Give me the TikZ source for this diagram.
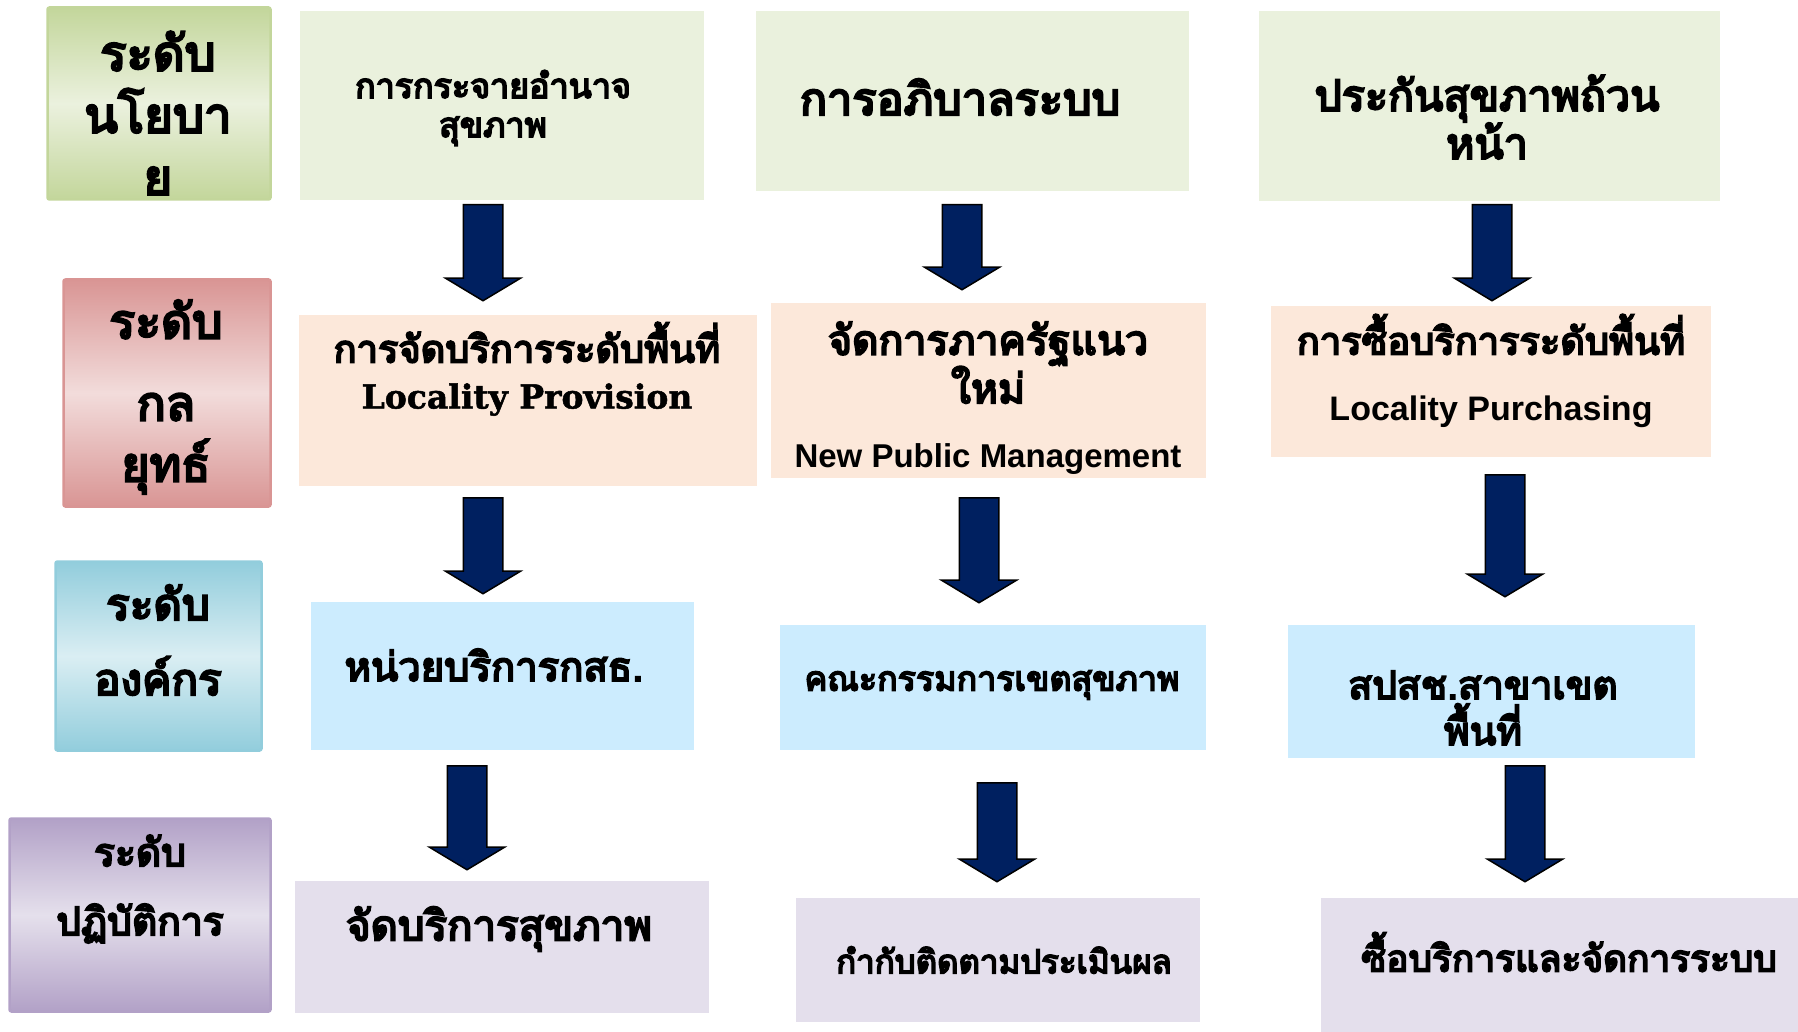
\documentclass[tikz,border=0pt]{standalone}
\usepackage{fontspec}
\newfontfamily\thaifont[Script=Thai,BoldFont={Loma},BoldFeatures={FakeBold=5}]{Loma}
\newfontfamily\arialfont{Liberation Sans}
\newfontfamily\slabfont[BoldFeatures={FakeBold=1.5}]{DejaVu Serif}
\usetikzlibrary{shapes.arrows}

\definecolor{navy}{RGB}{0,32,96}
\definecolor{cgreen}{RGB}{234,241,221}
\definecolor{cpeach}{RGB}{252,232,218}
\definecolor{cblue}{RGB}{204,236,254}
\definecolor{clav}{RGB}{228,223,236}
\definecolor{grlight}{RGB}{235,241,222}
\definecolor{grdark}{RGB}{195,214,155}
\definecolor{rslight}{RGB}{242,220,219}
\definecolor{rsdark}{RGB}{217,149,148}
\definecolor{bllight}{RGB}{218,238,243}
\definecolor{bldark}{RGB}{146,205,220}
\definecolor{pulight}{RGB}{229,224,236}
\definecolor{pudark}{RGB}{178,161,199}

\begin{document}
\begin{tikzpicture}[x=1pt,y=-1pt,
  cell/.style={rectangle,inner sep=0pt,draw=none},
  level/.style={rectangle,rounded corners=2pt,line width=2.5pt,shading angle=-45,inner sep=0pt},
  txt/.style 2 args={align=center,inner sep=0pt,font=\thaifont\bfseries\fontsize{#1}{#2}\selectfont},
  downarrow/.style={single arrow,draw=black,line width=1.5pt,fill=navy,rotate=-90,anchor=tail,
    inner xsep=0pt,inner ysep=19pt,single arrow head extend=18pt,single arrow tip angle=118}]
\useasboundingbox (0,0) rectangle (1798,1032);

% level labels
\node[level,draw=grdark,top color=grdark,bottom color=grdark,middle color=grlight,
  minimum width=223pt,minimum height=192pt] (lvpolicy) at (159,103.5) {};
\node[level,draw=rsdark,top color=rsdark,bottom color=rsdark,middle color=rslight,
  minimum width=207pt,minimum height=227pt] (lvstrategy) at (167,393) {};
\node[level,draw=bldark,top color=bldark,bottom color=bldark,middle color=bllight,
  minimum width=206pt,minimum height=189pt] (lvorg) at (158.5,656) {};
\node[level,draw=pudark,top color=pudark,bottom color=pudark,middle color=pulight,
  minimum width=261pt,minimum height=193pt] (lvoper) at (140,915) {};

\node[txt={49}{62}] (lvpolicyt) at (158,113) {ระดับ\\นโยบา\\ย};
\node[txt={48}{61}] (lvstrategyt) at (166,397) {ระดับ\\[21pt]กล\\ยุทธ์};
\node[txt={44}{75}] (lvorgt) at (158,640) {ระดับ\\องค์กร};
\node[txt={39}{69}] (lvopert) at (140,889) {ระดับ\\ปฏิบัติการ};

% column 1
\node[cell,fill=cgreen,minimum width=404pt,minimum height=189pt] (decentral) at (502,105.5) {};
\node[cell,fill=cpeach,minimum width=458pt,minimum height=171pt] (locprov) at (528,400.5) {};
\node[cell,fill=cblue,minimum width=383pt,minimum height=148pt] (unit) at (502.5,676) {};
\node[cell,fill=clav,minimum width=414pt,minimum height=132pt] (service) at (502,947) {};

\node[txt={34}{39}] (decentralt) at (493,108) {การกระจายอำนาจ\\สุขภาพ};
\node[txt={38}{46}] (locprovt) at (527,369) {การจัดบริการระดับพื้นที่\\{\slabfont\bfseries\fontsize{33}{46}\selectfont Locality Provision}};
\node[txt={40}{48}] (unitt) at (494,665) {หน่วยบริการกสธ.};
\node[txt={42}{48}] (servicet) at (499,929) {จัดบริการสุขภาพ};

% column 2
\node[cell,fill=cgreen,minimum width=433pt,minimum height=180pt] (govern) at (972.5,101) {};
\node[cell,fill=cpeach,minimum width=435pt,minimum height=175pt] (npm) at (988.5,390.5) {};
\node[cell,fill=cblue,minimum width=426pt,minimum height=125pt] (board) at (993,687.5) {};
\node[cell,fill=clav,minimum width=404pt,minimum height=124pt] (monitor) at (998,960) {};

\node[txt={45}{50}] (governt) at (960,97) {การอภิบาลระบบ};
\node[txt={41}{47}] (npmt) at (988,398) {จัดการภาครัฐแนว\\ใหม่\\[17pt]{\arialfont\fontsize{33}{47}\selectfont New Public Management}};
\node[txt={34}{40}] (boardt) at (992,685) {คณะกรรมการเขตสุขภาพ};
\node[txt={33}{40}] (monitort) at (1004,960) {กำกับติดตามประเมินผล};

% column 3
\node[cell,fill=cgreen,minimum width=461pt,minimum height=190pt] (uhc) at (1489.5,106) {};
\node[cell,fill=cpeach,minimum width=440pt,minimum height=151pt] (locpurch) at (1491,381.5) {};
\node[cell,fill=cblue,minimum width=407pt,minimum height=133pt] (branch) at (1491.5,691.5) {};
\node[cell,fill=clav,minimum width=489pt,minimum height=145pt] (purchase) at (1565.5,970.5) {};

\node[txt={43}{48}] (uhct) at (1487,117) {ประกันสุขภาพถ้วน\\หน้า};
\node[txt={38}{66}] (locpurcht) at (1491,371) {การซื้อบริการระดับพื้นที่\\{\arialfont\fontsize{34}{66}\selectfont Locality Purchasing}};
\node[txt={39}{46}] (brancht) at (1483,708) {สปสช.สาขาเขต\\พื้นที่};
\node[txt={37}{44}] (purchaset) at (1569,952) {ซื้อบริการและจัดการระบบ};

% block arrows between the levels
\node[downarrow,minimum height=96pt] (d1a) at (483,204) {};
\node[downarrow,minimum height=96pt] (d1b) at (483,497) {};
\node[downarrow,minimum height=104pt] (d1c) at (467,765) {};
\node[downarrow,minimum height=85pt] (d2a) at (962,204) {};
\node[downarrow,minimum height=105pt] (d2b) at (979,497) {};
\node[downarrow,minimum height=99pt] (d2c) at (997,782) {};
\node[downarrow,minimum height=96pt] (d3a) at (1492,204) {};
\node[downarrow,minimum height=122pt] (d3b) at (1505,474) {};
\node[downarrow,minimum height=116pt] (d3c) at (1525,765) {};
\end{tikzpicture}
\end{document}
